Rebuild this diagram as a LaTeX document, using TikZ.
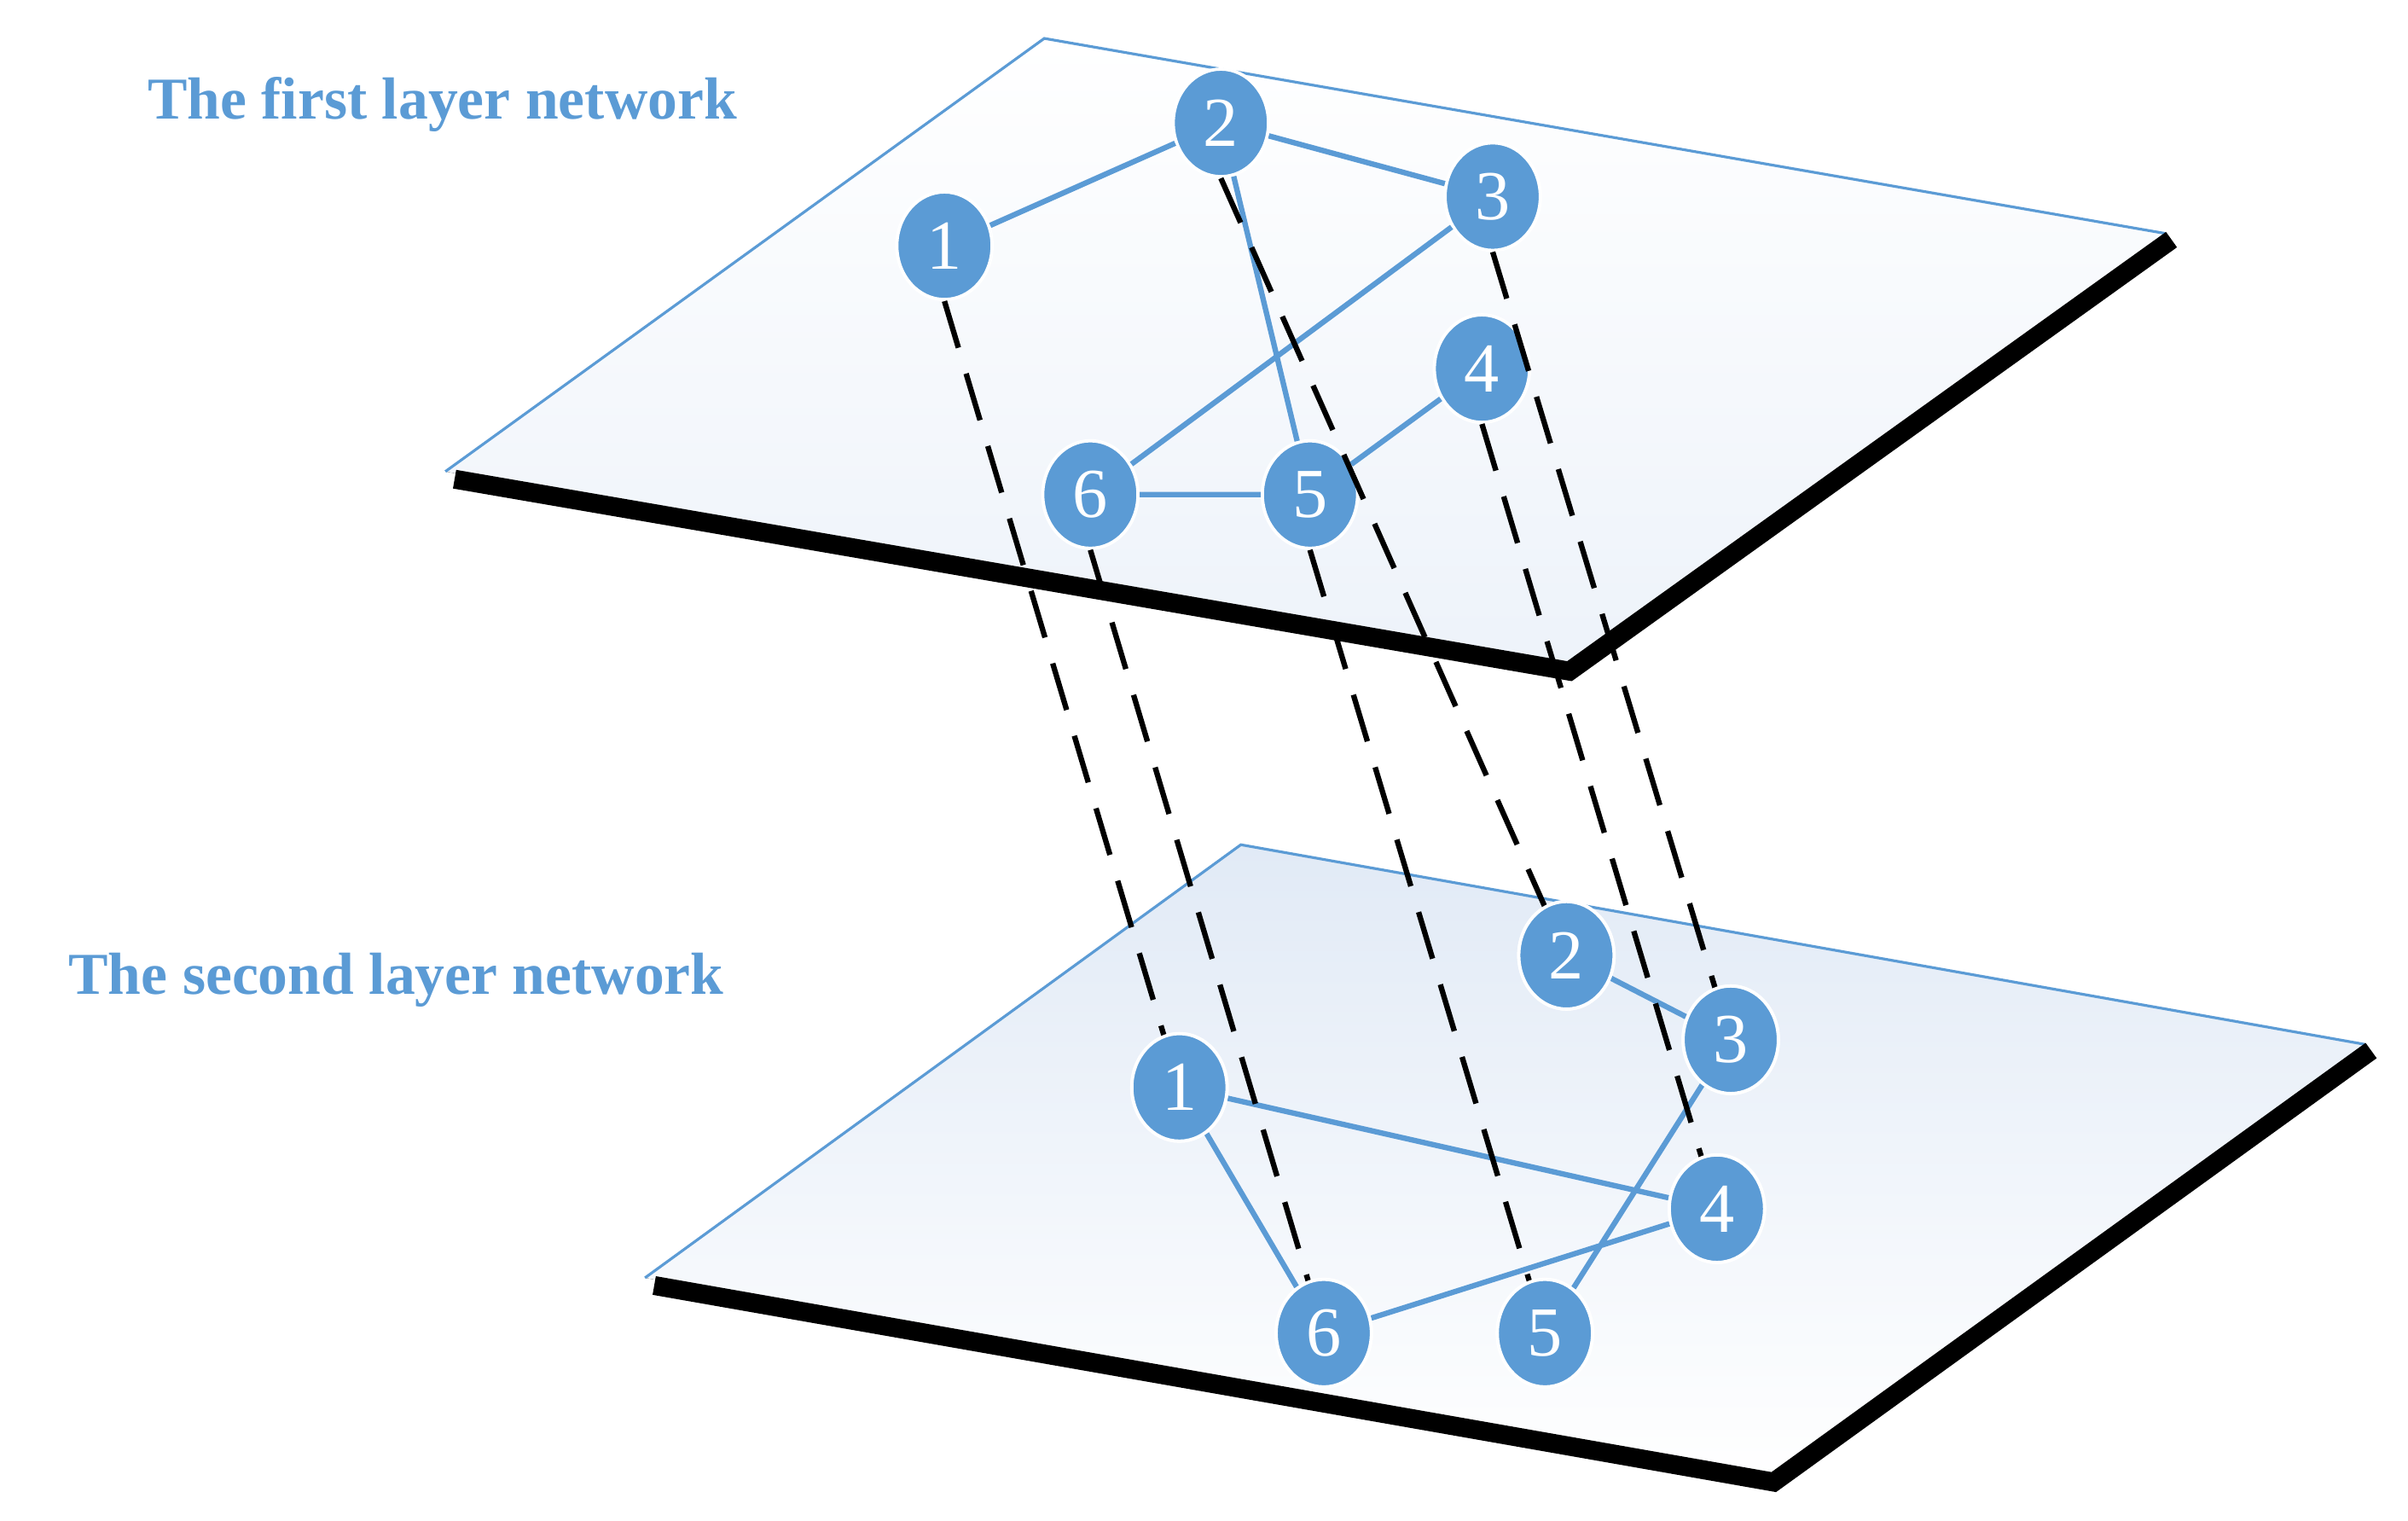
\documentclass[tikz,border=0pt]{standalone}
\usepackage{fontspec}
\setmainfont{Liberation Serif}
\usetikzlibrary{shapes.geometric}
\begin{document}
\begin{tikzpicture}[x=0.01cm,y=-0.01cm]
\definecolor{nb}{RGB}{91,155,213}
\definecolor{pl}{RGB}{225,234,246}
\tikzset{
 nd/.style={ellipse,draw=white,line width=0.6pt,fill=nb,minimum width=0.62cm,minimum height=0.7cm,inner sep=0pt,text=white,font=\fontsize{13}{14}\selectfont},
 ln/.style={draw=nb,line width=1pt},
 dl/.style={draw=black,line width=1pt,dash pattern=on 9pt off 5pt},
 lab/.style={text=nb,font=\bfseries\fontsize{11}{13}\selectfont}}
\useasboundingbox (0,0) rectangle (1568,990);
% top plane
\fill[top color=white,bottom color=pl!60] (680,25)--(1410,152)--(1022,437)--(290,307)--cycle;
\draw[nb,line width=0.5pt] (290,307)--(680,25)--(1410,152);
\draw[black,line width=3.5pt] (296,312)--(1022,437)--(1414,156);
% bottom plane
\fill[top color=pl,bottom color=white] (808,550)--(1540,680)--(1155,965)--(420,832)--cycle;
\draw[nb,line width=0.5pt] (420,832)--(808,550)--(1540,680);
\draw[black,line width=3.5pt] (426,837)--(1155,965)--(1544,684);
% nodes
\node[nd] (a1) at (615,160) {1};
\node[nd] (a2) at (795,80) {2};
\node[nd] (a3) at (972,128) {3};
\node[nd] (a4) at (965,240) {4};
\node[nd] (a5) at (853,322) {5};
\node[nd] (a6) at (710,322) {6};
\node[nd] (b1) at (768,708) {1};
\node[nd] (b2) at (1020,622) {2};
\node[nd] (b3) at (1127,677) {3};
\node[nd] (b4) at (1118,787) {4};
\node[nd] (b5) at (1006,868) {5};
\node[nd] (b6) at (862,868) {6};
\draw[ln] (a1)--(a2) (a2)--(a3) (a2)--(a5) (a3)--(a6) (a6)--(a5) (a5)--(a4);
\draw[ln] (b2)--(b3) (b1)--(b4) (b1)--(b6) (b6)--(b4) (b3)--(b5);
\foreach \i in {1,...,6}{\draw[dl] (a\i.south) -- (b\i.center);}
\foreach \n/\t in {b1/1,b2/2,b3/3,b4/4,b5/5,b6/6}{\node[nd] at (\n) {\t};}
\node[lab] (t1) at (288,68) {The first layer network};
\node[lab] (t2) at (258,638) {The second layer network};
\end{tikzpicture}
\end{document}
